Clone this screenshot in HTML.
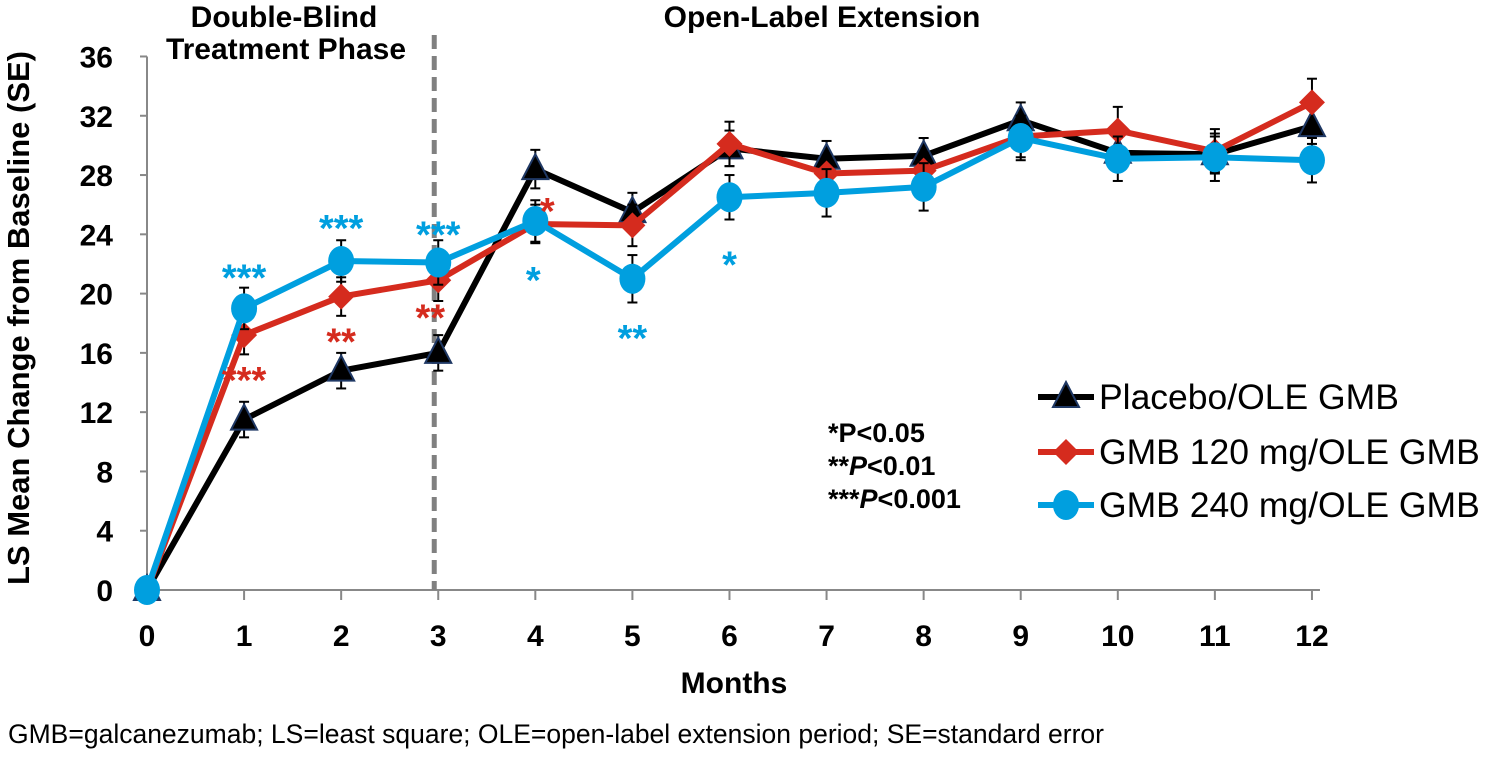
<!DOCTYPE html>
<html><head><meta charset="utf-8"><style>
body{margin:0;background:#fff;width:1502px;height:753px;overflow:hidden;font-family:"Liberation Sans",Arial,sans-serif}
</style></head><body>
<svg id="chart" width="1502" height="753" xmlns="http://www.w3.org/2000/svg" font-family="Liberation Sans, Arial, sans-serif">
<text x="284" y="27" font-size="30" font-weight="bold" text-anchor="middle">Double-Blind</text>
<text x="286" y="59" font-size="30" font-weight="bold" text-anchor="middle">Treatment Phase</text>
<text x="822" y="27" font-size="30" font-weight="bold" text-anchor="middle">Open-Label Extension</text>
<text transform="translate(29,318) rotate(-90)" font-size="31" font-weight="bold" text-anchor="middle">LS Mean Change from Baseline (SE)</text>
<text x="734" y="693" font-size="30" font-weight="bold" text-anchor="middle">Months</text>
<text x="8" y="743" font-size="26.5">GMB=galcanezumab; LS=least square; OLE=open-label extension period; SE=standard error</text>
<g font-size="27" font-weight="bold">
<text x="828" y="442">*P&lt;0.05</text>
<text x="828" y="475">**<tspan font-style="italic">P</tspan>&lt;0.01</text>
<text x="828" y="508">***<tspan font-style="italic">P</tspan>&lt;0.001</text>
</g>
<g id="axes"></g>
<g id="series"></g>
<g id="legend"></g>
</svg>
<script>
const months=[0,1,2,3,4,5,6,7,8,9,10,11,12];
const yTicks=[0,4,8,12,16,20,24,28,32,36];
const placebo=[0,11.5,14.8,16.0,28.4,25.5,29.8,29.1,29.3,31.7,29.5,29.4,31.3];
const gmb120=[0,17.2,19.8,20.9,24.7,24.6,30.1,28.1,28.3,30.6,31.0,29.6,32.9];
const gmb240=[0,19.0,22.2,22.1,24.9,21.0,26.5,26.8,27.2,30.5,29.1,29.2,29.0];
const sePlacebo=[0,1.2,1.2,1.2,1.3,1.3,1.2,1.2,1.2,1.2,1.2,1.2,1.2];
const se120=[0,1.3,1.3,1.4,1.3,1.4,1.5,1.2,1.2,1.4,1.6,1.5,1.6];
const se240=[0,1.4,1.4,1.5,1.4,1.6,1.5,1.6,1.6,1.5,1.5,1.6,1.5];
const sigLabels=[
 {m:1,v:gmb240[1],t:"***",c:"#009fdf",dy:-18},{m:2,v:gmb240[2],t:"***",c:"#009fdf",dy:-20},{m:3,v:gmb240[3],t:"***",c:"#009fdf",dy:-15},
 {m:1,v:gmb120[1],t:"***",c:"#d52b1e",dy:58},{m:2,v:gmb120[2],t:"**",c:"#d52b1e",dy:58},{m:3,v:gmb120[3],t:"**",c:"#d52b1e",dy:50,dx:-8},
 {m:4,v:gmb120[4],t:"*",c:"#d52b1e",dy:0,dx:12},{m:4,v:gmb240[4],t:"*",c:"#009fdf",dy:72,dx:-2},
 {m:5,v:gmb240[5],t:"**",c:"#009fdf",dy:72},{m:6,v:gmb240[6],t:"*",c:"#009fdf",dy:80}
];
const NS="http://www.w3.org/2000/svg";
const X=m=>147+m*97.08, Y=v=>590-v*14.82;
function mk(tag,attrs,parent){const e=document.createElementNS(NS,tag);for(const k in attrs)e.setAttribute(k,attrs[k]);parent.appendChild(e);return e;}
const axes=document.getElementById('axes');
let l=mk('line',{x1:X(0),x2:X(0),y1:Y(36),y2:Y(0),stroke:'#888','stroke-width':2},axes);

l=mk('line',{x1:X(0),x2:X(12)+8,y1:Y(0),y2:Y(0),stroke:'#888','stroke-width':2},axes);

yTicks.forEach(v=>{mk('line',{x1:X(0)-7,x2:X(0),y1:Y(v),y2:Y(v),stroke:'#888','stroke-width':2},axes);
 const t=mk('text',{x:X(0)-34,y:Y(v)+11,'font-size':30,'font-weight':'bold','text-anchor':'end'},axes);t.textContent=v;
 });
months.forEach(m=>{mk('line',{x1:X(m),x2:X(m),y1:Y(0),y2:Y(0)+10,stroke:'#888','stroke-width':2},axes);
 const t=mk('text',{x:X(m),y:646,'font-size':30,'font-weight':'bold','text-anchor':'middle'},axes);t.textContent=m;
 });
l=mk('line',{x1:(X(3)-4),x2:X(3)-4,y1:35,y2:Y(0),stroke:'#808080','stroke-width':5,'stroke-dasharray':'14,7'},axes);

const ser=document.getElementById('series');
function marker(type,x,y,col,g){
 if(type==='tri')return mk('polygon',{points:`${x},${y-15} ${x-13},${y+10} ${x+13},${y+10}`,fill:'#000',stroke:'#1f3864','stroke-width':2},g);
 if(type==='dia')return mk('polygon',{points:`${x},${y-13} ${x+13},${y} ${x},${y+13} ${x-13},${y}`,fill:col},g);
 return mk('ellipse',{cx:x,cy:y,rx:13,ry:15,fill:col},g);
}
function draw(vals,se,col,type,name){
 const g=mk('g',{},ser);
 vals.forEach((v,i)=>{if(i===0)return;const x=X(months[i]);
  mk('line',{x1:x,x2:x,y1:Y(v+se[i]),y2:Y(v-se[i]),stroke:'#000','stroke-width':2},g);
  mk('line',{x1:x-5,x2:x+5,y1:Y(v+se[i]),y2:Y(v+se[i]),stroke:'#000','stroke-width':2},g);
  mk('line',{x1:x-5,x2:x+5,y1:Y(v-se[i]),y2:Y(v-se[i]),stroke:'#000','stroke-width':2},g);});
 const p=mk('polyline',{points:vals.map((v,i)=>X(months[i])+','+Y(v)).join(' '),fill:'none',stroke:col,'stroke-width':6,'stroke-linejoin':'round'},g);
 
 vals.forEach((v,i)=>{const m=marker(type,X(months[i]),Y(v),col,g);});
}
draw(placebo,sePlacebo,'#000','tri','placebo-series');
draw(gmb120,se120,'#d52b1e','dia','gmb120-series');
draw(gmb240,se240,'#009fdf','circ','gmb240-series');
sigLabels.forEach(s=>{const t=mk('text',{x:X(s.m)+(s.dx||0),y:Y(s.v)+s.dy,'font-size':38,'font-weight':'bold',fill:s.c,'text-anchor':'middle'},ser);t.textContent=s.t;
 });
const lg=document.getElementById('legend');
[['Placebo/OLE GMB','#000','tri',397],['GMB 120 mg/OLE GMB','#d52b1e','dia',452],['GMB 240 mg/OLE GMB','#009fdf','circ',505]].forEach(d=>{
 const g=mk('g',{},lg);
 mk('line',{x1:1038,x2:1094,y1:d[3],y2:d[3],stroke:d[1],'stroke-width':6},g);
 marker(d[2],1066,d[3],d[1],g);
 const t=mk('text',{x:1099,y:d[3]+12,'font-size':35.5},g);t.textContent=d[0];
});
</script>
</body></html>
